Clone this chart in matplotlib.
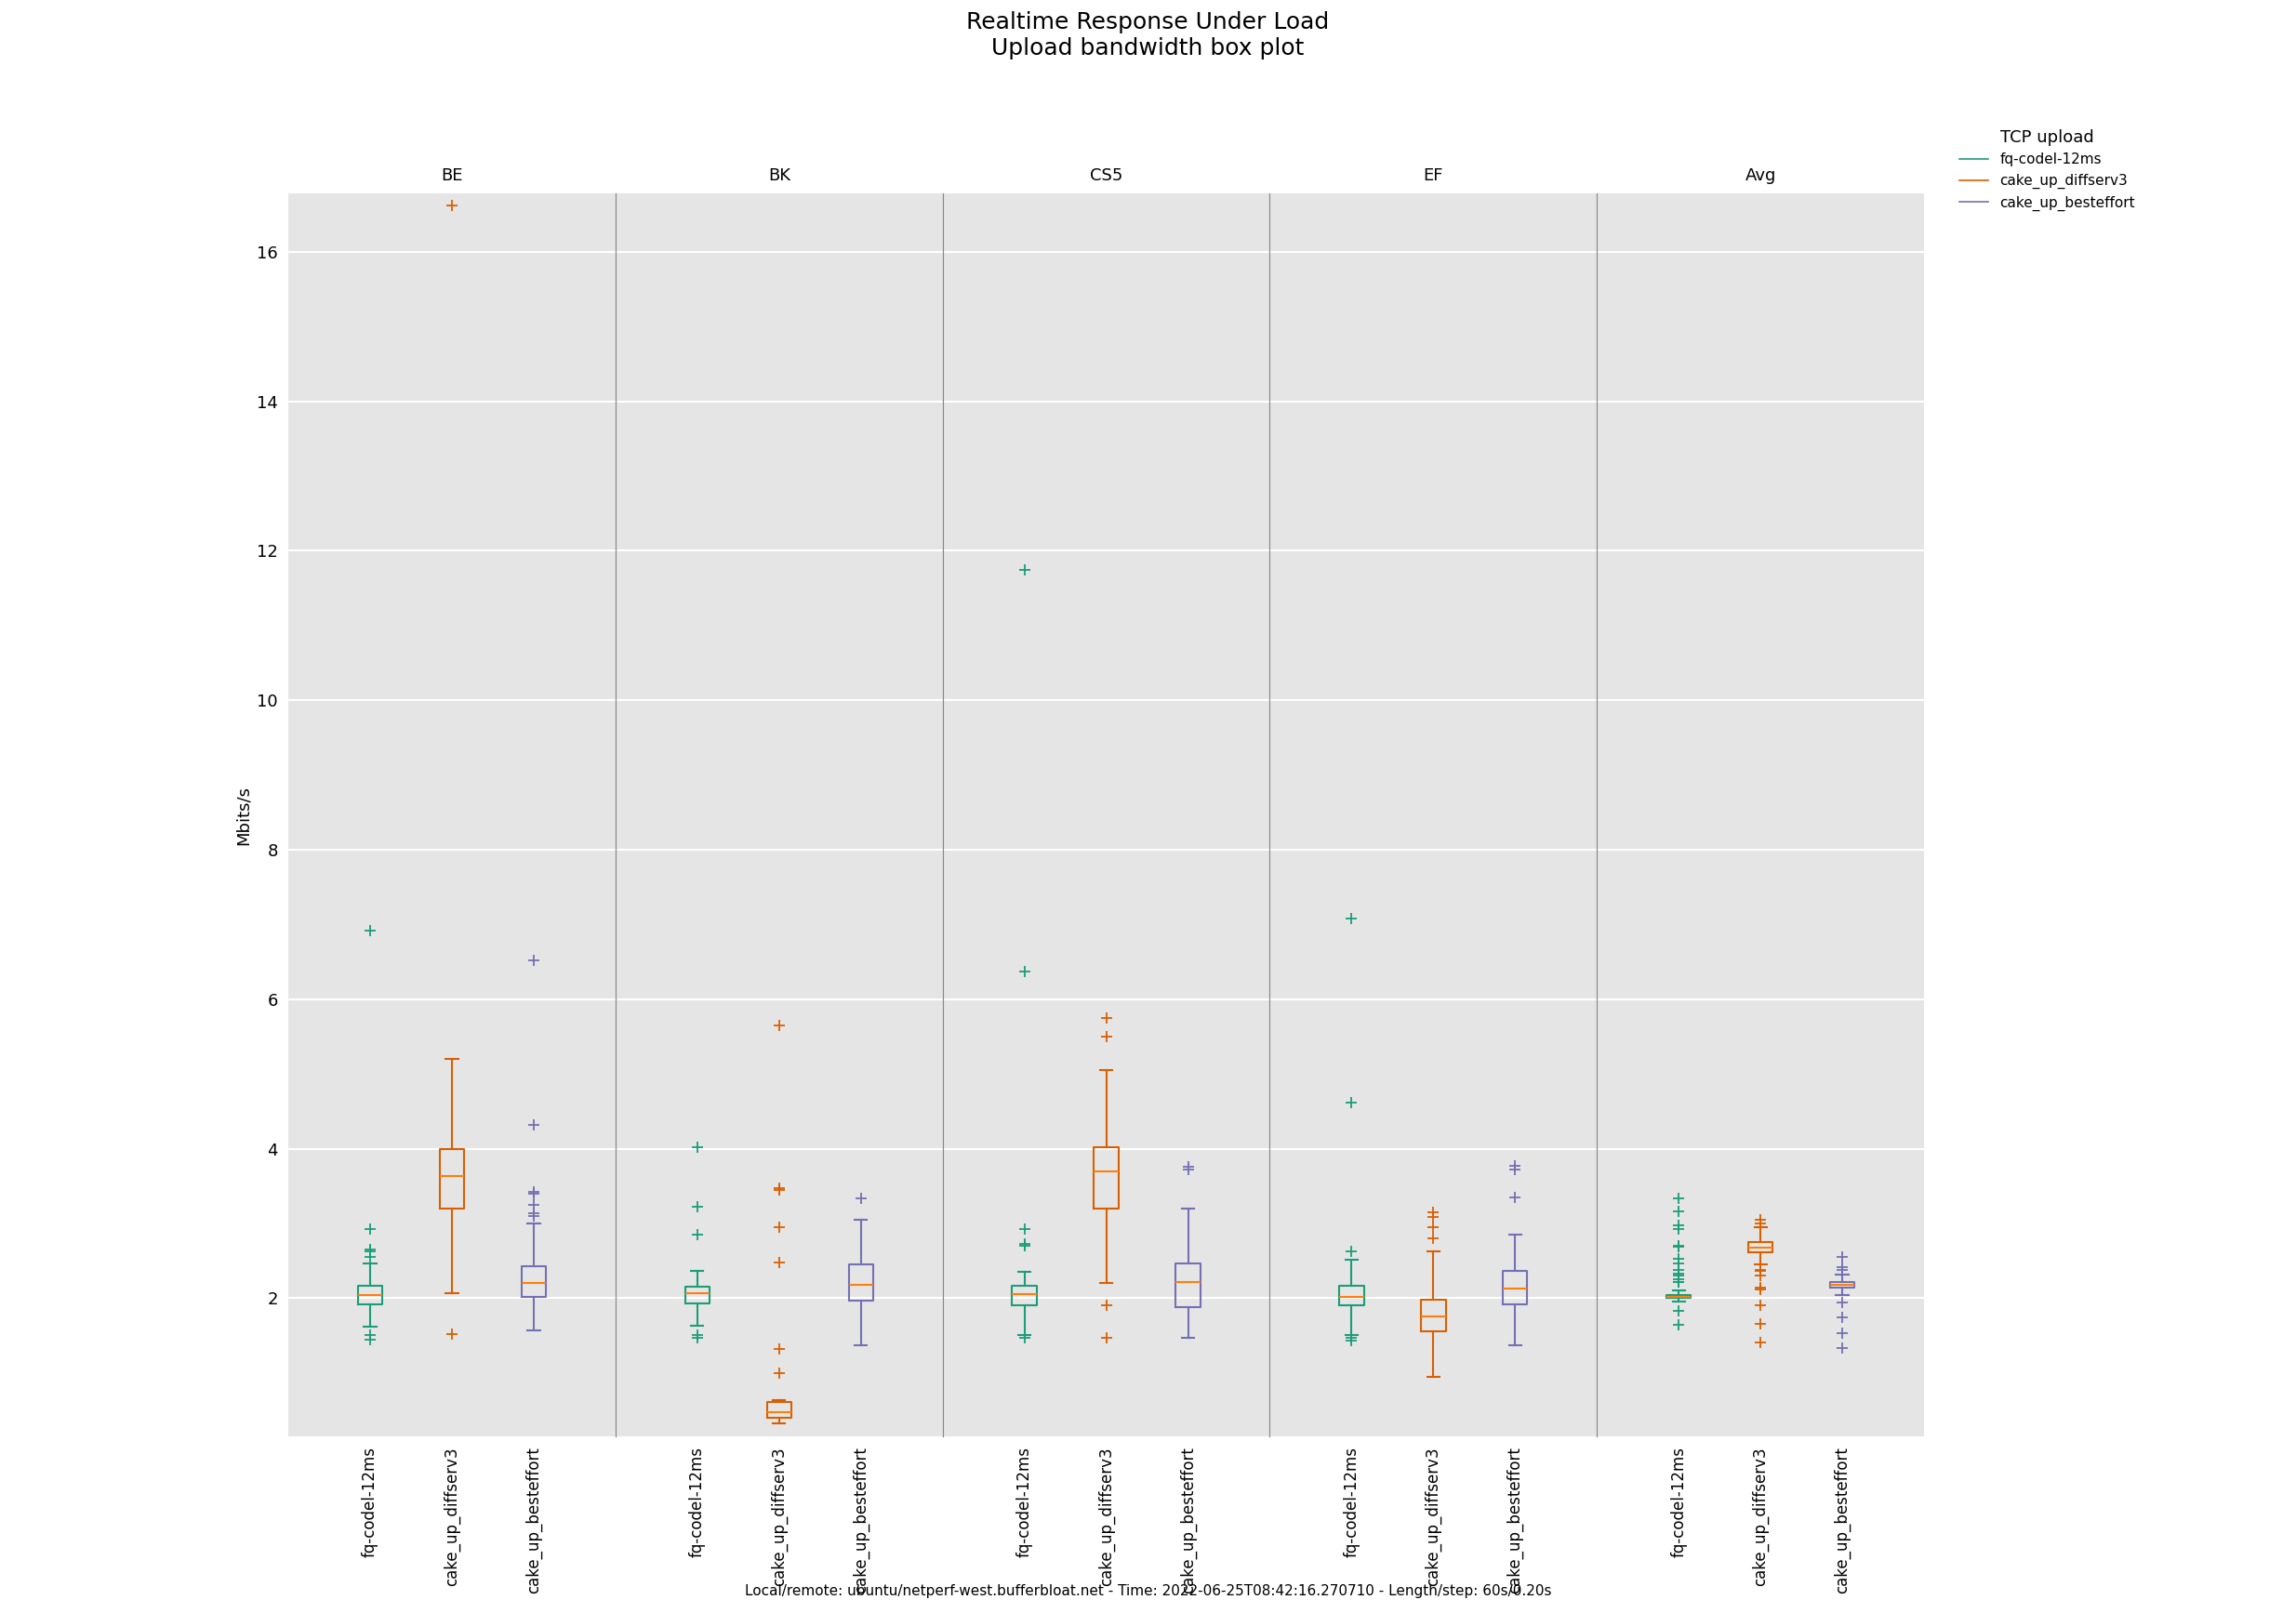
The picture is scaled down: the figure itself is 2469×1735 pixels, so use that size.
import matplotlib
matplotlib.use("Agg")
import matplotlib.pyplot as plt
from matplotlib.lines import Line2D

panels = ["BE", "BK", "CS5", "EF", "Avg"]
series = ["fq-codel-12ms", "cake_up_diffserv3", "cake_up_besteffort"]
colors = ["#1b9e77", "#d95f02", "#7570b3"]

# stats per panel per series: (whislo, q1, med, q3, whishi, fliers)
stats = {
 "BE": [(1.62, 1.92, 2.04, 2.16, 2.46, [2.93, 2.65, 2.62, 2.55, 1.50, 1.45, 6.92]),
        (2.07, 3.20, 3.63, 4.00, 5.20, [1.52, 16.62]),
        (1.57, 2.02, 2.20, 2.43, 3.00, [3.10, 3.13, 3.25, 3.40, 3.42, 4.32, 6.52])],
 "BK": [(1.63, 1.93, 2.06, 2.15, 2.36, [2.85, 3.22, 4.02, 1.50, 1.47]),
        (0.32, 0.40, 0.47, 0.61, 0.63, [1.00, 1.32, 2.48, 2.95, 3.45, 3.47, 5.65]),
        (1.37, 1.97, 2.18, 2.45, 3.05, [3.33])],
 "CS5": [(1.50, 1.90, 2.05, 2.17, 2.35, [1.47, 2.70, 2.72, 2.93, 6.37, 11.75]),
         (2.20, 3.20, 3.70, 4.02, 5.05, [1.90, 1.47, 5.50, 5.75]),
         (1.47, 1.88, 2.22, 2.46, 3.20, [3.72, 3.76])],
 "EF": [(1.50, 1.90, 2.02, 2.17, 2.52, [1.43, 1.47, 2.63, 4.62, 7.08]),
        (0.95, 1.56, 1.76, 1.98, 2.63, [2.80, 2.95, 3.08, 3.15]),
        (1.37, 1.92, 2.13, 2.36, 2.85, [3.35, 3.72, 3.77])],
 "Avg": [(1.95, 2.00, 2.02, 2.04, 2.10, [3.34, 3.16, 2.98, 2.93, 2.70, 2.69, 2.53, 2.46, 2.38,
                                          2.33, 2.30, 2.25, 2.22, 2.21, 1.83, 1.64]),
         (2.45, 2.61, 2.68, 2.75, 2.95, [3.05, 3.00, 2.38, 2.36, 2.30, 2.14, 2.12, 1.91, 1.65, 1.41]),
         (2.04, 2.14, 2.18, 2.21, 2.31, [2.55, 2.41, 2.38, 1.94, 1.74, 1.53, 1.33])],
}
yticks = [2, 4, 6, 8, 10, 12, 14, 16]

fig = plt.figure(figsize=(24.69, 17.35), dpi=100)
axes = fig.subplots(1, 5, sharey=True)
fig.subplots_adjust(left=0.1256, right=0.838, top=0.880, bottom=0.1095, wspace=0)

for i, (ax, p) in enumerate(zip(axes, panels)):
    ax.set_facecolor("#e5e5e5")
    ax.grid(axis="y", color="white", linewidth=1.5)
    ax.set_axisbelow(True)
    for k, (lo, q1, med, q3, hi, fl) in enumerate(stats[p]):
        c = colors[k]
        ax.bxp([dict(whislo=lo, q1=q1, med=med, q3=q3, whishi=hi, fliers=fl)],
               positions=[k + 1], widths=0.3,
               boxprops=dict(color=c, linewidth=1.5),
               whiskerprops=dict(color=c, linewidth=1.5),
               capprops=dict(color=c, linewidth=1.5),
               medianprops=dict(color="#ff7f0e", linewidth=1.5),
               flierprops=dict(marker="+", markeredgecolor=c, markersize=8, markeredgewidth=1.3))
    ax.set_xlim(0, 4)
    ax.set_xticks([1, 2, 3])
    ax.set_xticklabels(series, rotation=90, fontsize=12)
    ax.set_title(p, fontsize=13, pad=10)
    for s in ["top", "bottom"]:
        ax.spines[s].set_visible(False)
    ax.spines["left"].set_visible(i > 0)
    ax.spines["right"].set_visible(i < 4)
    for s in ["left", "right"]:
        ax.spines[s].set_color("#888888")
        ax.spines[s].set_linewidth(0.8)
    ax.tick_params(axis="both", length=0, pad=8)

axes[0].set_ylim(0.15, 16.78)
axes[0].set_yticks(yticks)
axes[0].tick_params(axis="y", labelsize=13)
axes[0].set_ylabel("Mbits/s", fontsize=13)

handles = [Line2D([], [], color=c, linewidth=1.2) for c in colors]
fig.legend(handles, series, title="TCP upload", loc="upper left",
           bbox_to_anchor=(0.848, 0.928), frameon=False, fontsize=11, title_fontsize=13)

fig.suptitle("Realtime Response Under Load\nUpload bandwidth box plot", fontsize=18, y=0.993)
fig.text(0.5, 0.011, "Local/remote: ubuntu/netperf-west.bufferbloat.net - Time: 2022-06-25T08:42:16.270710 - Length/step: 60s/0.20s",
         ha="center", fontsize=11)
fig.savefig("out.png", dpi=100)
